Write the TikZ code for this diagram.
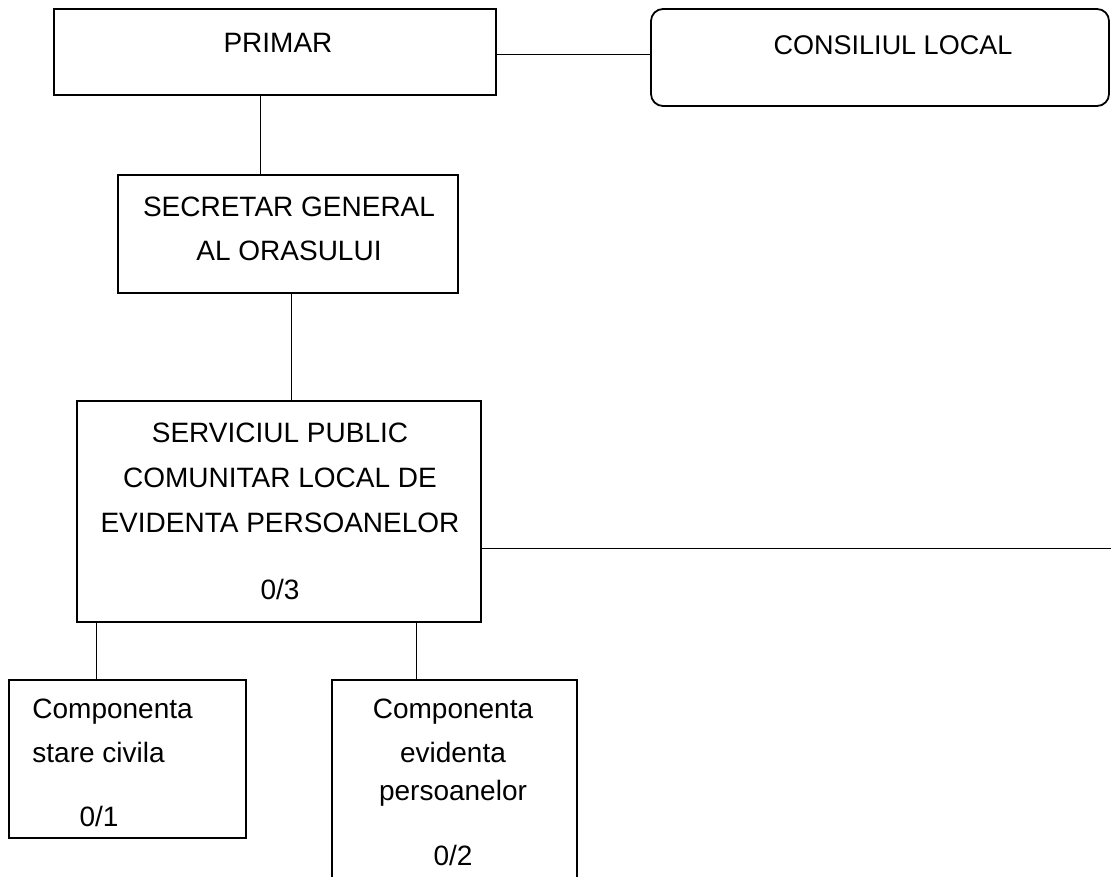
\documentclass[tikz,border=0pt]{standalone}
\usepackage{fontspec}
\setmainfont{Liberation Sans}
\begin{document}
\begin{tikzpicture}[x=0.5pt,y=-0.5pt,
  box/.style={draw,line width=0.9pt,inner sep=0pt},
  conn/.style={line width=0.5pt},
  lbl/.style={inner sep=0pt,font=\fontsize{14}{16}\selectfont}]
\useasboundingbox (0,0) rectangle (1111,876);
\clip (0,0) rectangle (1111,876);
% boxes
\node[box,minimum width=221pt,minimum height=43pt] (primar) at (275,52) {};
\node[box,rounded corners=6pt,minimum width=229pt,minimum height=48.5pt] (cons) at (880,57.5) {};
\node[box,minimum width=170pt,minimum height=59pt] (secr) at (288,234) {};
\node[box,minimum width=202pt,minimum height=110.5pt] (serv) at (279,511.5) {};
\node[box,minimum width=118.5pt,minimum height=79pt] (c1) at (127.5,759) {};
\node[box,minimum width=122.5pt,minimum height=120pt] (c2) at (454.5,800) {};
% texts
\node[lbl] (tprimar) at (278,43) {PRIMAR};
\node[lbl,font=\fontsize{13.5}{16}\selectfont] (tcons) at (893,45) {CONSILIUL LOCAL};
\node[lbl] (ts1) at (289,207) {SECRETAR GENERAL};
\node[lbl] (ts2) at (289,251) {AL ORASULUI};
\node[lbl] (tv1) at (280,433) {SERVICIUL PUBLIC};
\node[lbl] (tv2) at (280,478) {COMUNITAR LOCAL DE};
\node[lbl] (tv3) at (280,523) {EVIDENTA PERSOANELOR};
\node[lbl] (tv4) at (280,589) {0/3};
\node[lbl,anchor=west] (ta1) at (32,712) {Componenta};
\node[lbl,anchor=west] (ta2) at (32,752) {stare civila};
\node[lbl] (ta3) at (99,816) {0/1};
\node[lbl] (tb1) at (453,712) {Componenta};
\node[lbl] (tb2) at (453,752) {evidenta};
\node[lbl] (tb3) at (453,793) {persoanelor};
\node[lbl] (tb4) at (453,855) {0/2};
% connector helpers
\coordinate (h1) at (0,55);
\coordinate (v1) at (260,0);
\coordinate (v2) at (291,0);
\coordinate (rend) at (1111,548);
\coordinate (v3) at (96,0);
\coordinate (v4) at (416,0);
% connectors
\draw[conn] (primar.east |- h1) -- (cons.west |- h1);
\draw[conn] (v1 |- primar.south) -- (v1 |- secr.north);
\draw[conn] (v2 |- secr.south) -- (v2 |- serv.north);
\draw[conn] (serv.east |- rend) -- (rend);
\draw[conn] (v3 |- serv.south) -- (v3 |- c1.north);
\draw[conn] (v4 |- serv.south) -- (v4 |- c2.north);
\end{tikzpicture}
\end{document}
